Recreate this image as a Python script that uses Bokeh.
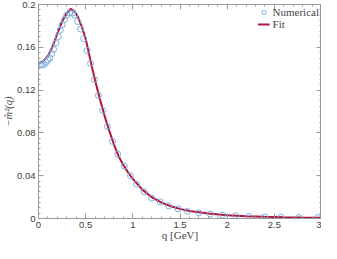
from bokeh.plotting import figure
from bokeh.models import (Range1d, LinearAxis, FixedTicker, Legend, LegendItem)
from bokeh.embed import file_html
from bokeh.resources import INLINE

# Numerical data (q in GeV, -m^2(q))
q_num = [0.02, 0.04, 0.06, 0.08, 0.10, 0.12, 0.14, 0.16, 0.185, 0.21, 0.23, 0.25, 0.275,
         0.30, 0.33, 0.36, 0.385, 0.415, 0.445, 0.48, 0.515, 0.552, 0.593, 0.635, 0.68,
         0.73, 0.785, 0.84, 0.91, 0.976, 1.04, 1.12, 1.20, 1.29, 1.38, 1.48, 1.58, 1.70,
         1.82, 1.95, 2.09, 2.23, 2.40, 2.57, 2.76, 2.96]
m_num = [0.1435, 0.1437, 0.144, 0.146, 0.148, 0.150, 0.154, 0.158, 0.164, 0.170, 0.176,
         0.181, 0.186, 0.190, 0.192, 0.192, 0.190, 0.184, 0.177, 0.168, 0.157, 0.145,
         0.130, 0.115, 0.101, 0.086, 0.072, 0.060, 0.049, 0.040, 0.032, 0.025, 0.019,
         0.0156, 0.0118, 0.0091, 0.0067, 0.0053, 0.0041, 0.0032, 0.0026, 0.0020, 0.0015,
         0.0012, 0.0009, 0.0009]

# Fit curve
q_fit = [0.0, 0.05, 0.1, 0.15, 0.2, 0.25, 0.3, 0.34, 0.38, 0.42, 0.46, 0.5, 0.55, 0.6,
         0.65, 0.7, 0.75, 0.8, 0.85, 0.9, 0.95, 1.0, 1.1, 1.2, 1.3, 1.4, 1.5, 1.6, 1.8,
         2.0, 2.2, 2.4, 2.6, 2.8, 3.0]
m_fit = [0.1452, 0.147, 0.152, 0.161, 0.173, 0.184, 0.192, 0.1958, 0.194, 0.188, 0.179,
         0.168, 0.148, 0.129, 0.112, 0.096, 0.082, 0.069, 0.058, 0.050, 0.043, 0.037,
         0.027, 0.020, 0.0150, 0.0115, 0.0090, 0.0071, 0.0046, 0.0031, 0.0022, 0.0016,
         0.0012, 0.0009, 0.0007]

x_ticks = [0, 0.5, 1, 1.5, 2, 2.5, 3]
x_tick_labels = ["0", "0.5", "1", "1.5", "2", "2.5", "3"]
y_ticks = [0, 0.04, 0.08, 0.12, 0.16, 0.2]
y_tick_labels = ["0", "0.04", "0.08", "0.12", "0.16", "0.2"]
x_minor = [i * 0.1 for i in range(31)]
y_minor = [i * 0.005 for i in range(41)]

FRAME = "#9a9a9a"
TICKTXT = "#3c3c3c"
BLUE = "#7cb0e2"
RED = "#b0143c"
SERIF = "Liberation Serif"

p = figure(width=321, height=243, output_backend="svg", toolbar_location=None,
           x_range=Range1d(0, 3), y_range=Range1d(0, 0.2),
           x_axis_location=None, y_axis_location=None,
           min_border_left=0, min_border_right=0, min_border_top=4, min_border_bottom=0)
p.grid.visible = False
p.outline_line_color = FRAME
p.background_fill_color = "white"
p.border_fill_color = "white"


def style(ax, ticks, labels=None):
    ax.axis_line_color = FRAME
    ax.major_tick_line_color = FRAME
    ax.minor_tick_line_color = FRAME
    ax.major_tick_in = 5
    ax.major_tick_out = 0
    ax.minor_tick_in = 2
    ax.minor_tick_out = 0
    if labels is None:
        ax.major_label_overrides = {t: "" for t in ticks}
        ax.major_label_text_font_size = "1px"
        ax.major_label_standoff = 0
    else:
        ax.major_label_overrides = {t: l for t, l in zip(ticks, labels)}
        ax.major_label_text_font = "Liberation Sans"
        ax.major_label_text_font_size = "9.5px"
        ax.major_label_text_color = TICKTXT
        ax.major_label_standoff = 3


xb = LinearAxis(ticker=FixedTicker(ticks=x_ticks, minor_ticks=x_minor))
style(xb, x_ticks, x_tick_labels)
xb.axis_label = "q [GeV]"
xb.axis_label_text_font = SERIF
xb.axis_label_text_font_style = "normal"
xb.axis_label_text_font_size = "11px"
xb.axis_label_standoff = -2
p.add_layout(xb, "below")

xt = LinearAxis(ticker=FixedTicker(ticks=x_ticks, minor_ticks=x_minor))
style(xt, x_ticks)
p.add_layout(xt, "above")

yl = LinearAxis(ticker=FixedTicker(ticks=y_ticks, minor_ticks=y_minor))
style(yl, y_ticks, y_tick_labels)
yl.axis_label = "\u2212m\u0302\u00b2(q)"
yl.axis_label_text_font = SERIF
yl.axis_label_text_font_style = "italic"
yl.axis_label_text_font_size = "10.5px"
yl.axis_label_standoff = 0
p.add_layout(yl, "left")

yr = LinearAxis(ticker=FixedTicker(ticks=y_ticks, minor_ticks=y_minor))
style(yr, y_ticks)
p.add_layout(yr, "right")

fit = p.line(q_fit, m_fit, line_color=RED, line_width=2)
num = p.scatter(q_num, m_num, marker="circle", size=6, fill_color=None,
                line_color=BLUE, line_width=1)

legend = Legend(items=[LegendItem(label="Numerical", renderers=[num]),
                       LegendItem(label="Fit", renderers=[fit])],
                location="top_right", border_line_color=None,
                background_fill_alpha=0, label_text_font=SERIF,
                label_text_font_size="11px", label_height=10, glyph_height=10,
                glyph_width=12, spacing=0, padding=2, margin=2, label_standoff=3)
p.add_layout(legend)

open("out.html", "w").write(file_html(p, INLINE))
